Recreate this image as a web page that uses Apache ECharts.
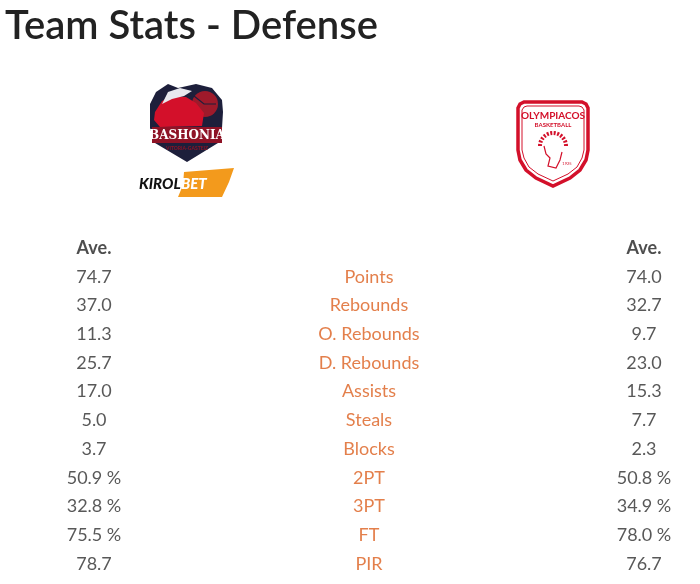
<!DOCTYPE html>
<html>
<head>
<meta charset="utf-8">
<script src="https://cdn.jsdelivr.net/npm/echarts@6/dist/echarts.min.js"></script>
<style>
  html, body { margin: 0; padding: 0; background: #fff; }
  #team_stats { width: 700px; height: 584px; }
</style>
</head>
<body>
<div id="team_stats"></div>
<script>
var columns = ['home', 'stat', 'away'];
var headerLabel = 'Ave.';
var stats = ['Points', 'Rebounds', 'O. Rebounds', 'D. Rebounds', 'Assists', 'Steals', 'Blocks', '2PT', '3PT', 'FT', 'PIR'];
var percentStats = ['2PT', '3PT', 'FT'];
var bashoniaAve = [74.7, 37.0, 11.3, 25.7, 17.0, 5.0, 3.7, 50.9, 32.8, 75.5, 78.7];
var olympiacosAve = [74.0, 32.7, 9.7, 23.0, 15.3, 7.7, 2.3, 50.8, 34.9, 78.0, 76.7];

var rows = [headerLabel].concat(stats);

function fmt(v, stat) {
    return v.toFixed(1) + (percentStats.indexOf(stat) >= 0 ? ' %' : '');
}

function teamData(col, values) {
    var data = [{
        value: [col, headerLabel, headerLabel],
        label: { fontWeight: 'bold', color: '#222' }
    }];
    stats.forEach(function (s, i) {
        data.push({ value: [col, s, fmt(values[i], s)] });
    });
    return data;
}

var statData = stats.map(function (s) { return { value: ['stat', s, s] }; });

var myChart = echarts.init(document.getElementById('team_stats'));

var labelBase = {
    show: true,
    position: 'inside',
    fontFamily: 'Lato',
    fontSize: 18,
    color: '#2e2e2e',
    formatter: function (p) { return p.value[2]; }
};

// logos, roughly drawn
var red = '#d3102a';
var navy = '#1d1f3b';
var logos = [
    // Bashonia crest
    { type: 'polygon', shape: { points: [[150, 104], [156, 92], [168, 84], [178, 88], [196, 84], [212, 88], [222, 100], [223, 112], [222, 128], [218, 143], [187, 162], [155, 143], [150, 128]] },
      style: { fill: navy } },
    { type: 'circle', shape: { cx: 205, cy: 104, r: 13 }, style: { fill: '#9e1a2b' } },
    { type: 'polyline', shape: { points: [[194, 96], [204, 104], [216, 104]] }, style: { stroke: navy, lineWidth: 1.2, fill: null } },
    { type: 'polygon', shape: { points: [[155, 112], [162, 101], [172, 96], [186, 97], [196, 103], [204, 113], [202, 126], [160, 127], [154, 120]] },
      style: { fill: red } },
    { type: 'polygon', shape: { points: [[162, 104], [168, 92], [180, 88], [192, 91], [184, 96], [172, 99]] },
      style: { fill: '#e8e8ee' } },
    { type: 'rect', shape: { x: 152, y: 127, width: 70, height: 16 }, style: { fill: '#8e1326' } },
    { type: 'text', style: { x: 187, y: 135.5, text: 'BASHONIA', fill: '#fff', font: 'bold 12px "DejaVu Serif"', align: 'center', verticalAlign: 'middle' } },
    { type: 'text', style: { x: 187, y: 148, text: 'VITORIA-GASTEIZ', fill: '#8e1326', font: 'bold 5px Lato', align: 'center', verticalAlign: 'middle' } },
    // Kirolbet
    { type: 'text', style: { x: 139, y: 184, text: 'KIROL', fill: '#111', font: 'italic 900 15px Lato', align: 'left', verticalAlign: 'middle' } },
    { type: 'polygon', shape: { points: [[184, 172], [234, 168], [229, 182], [222, 197], [178, 197], [183, 185]] },
      style: { fill: '#f39a1c' } },
    { type: 'text', style: { x: 181, y: 184, text: 'BET', fill: '#fff', font: 'italic 900 15px Lato', align: 'left', verticalAlign: 'middle' } },
    // Olympiacos shield
    { type: 'polygon', shape: { points: [[518, 108], [520, 104], [524, 102], [582, 102], [586, 104], [588, 108], [588, 150], [586, 160], [580, 170], [570, 178], [553, 186], [536, 178], [526, 170], [520, 160], [518, 150]] },
      style: { fill: '#fff', stroke: red, lineWidth: 3.5 } },
    { type: 'polygon', shape: { points: [[522, 110], [524, 107], [527, 106], [579, 106], [582, 107], [584, 110], [584, 150], [582, 158], [577, 167], [568, 174], [553, 181], [538, 174], [529, 167], [524, 158], [522, 150]] },
      style: { fill: 'none', stroke: red, lineWidth: 1 } },
    { type: 'text', style: { x: 553, y: 116, text: 'OLYMPIACOS', fill: red, font: 'bold 10px Lato', align: 'center', verticalAlign: 'middle' } },
    { type: 'text', style: { x: 553, y: 125, text: 'BASKETBALL', fill: red, font: 'bold 6px Lato', align: 'center', verticalAlign: 'middle' } },
    { type: 'arc', shape: { cx: 553, cy: 146, r: 13, startAngle: Math.PI, endAngle: 2 * Math.PI }, style: { stroke: red, lineWidth: 4, fill: null, lineDash: [2, 1.5] } },
    { type: 'polyline', shape: { points: [[544, 146], [546, 154], [550, 158], [548, 166], [556, 168], [560, 160], [562, 152]] }, style: { stroke: red, lineWidth: 1.2, fill: null } },
    { type: 'text', style: { x: 567, y: 164, text: '1925', fill: red, font: '4px Lato', align: 'center', verticalAlign: 'middle' } }
];

option = {
    animation: false,
    backgroundColor: '#fff',
    title: {
        text: 'Team Stats - Defense',
        left: 0,
        top: 1,
        textStyle: { fontFamily: 'Lato', fontSize: 40, fontWeight: 600, color: '#222' }
    },
    grid: { left: 94, right: 56, top: 248, bottom: 20 },
    xAxis: { type: 'category', data: columns, boundaryGap: false, show: false },
    yAxis: { type: 'category', data: rows, inverse: true, boundaryGap: false, show: false },
    graphic: logos,
    series: [
        {
            name: 'Bashonia',
            type: 'scatter',
            symbolSize: 1,
            itemStyle: { color: 'rgba(0,0,0,0)' },
            label: labelBase,
            data: teamData('home', bashoniaAve)
        },
        {
            name: 'Stat',
            type: 'scatter',
            symbolSize: 1,
            itemStyle: { color: 'rgba(0,0,0,0)' },
            label: Object.assign({}, labelBase, { color: '#dc5f1e' }),
            data: statData
        },
        {
            name: 'Olympiacos',
            type: 'scatter',
            symbolSize: 1,
            itemStyle: { color: 'rgba(0,0,0,0)' },
            label: labelBase,
            data: teamData('away', olympiacosAve)
        }
    ]
};

myChart.setOption(option);
</script>
</body>
</html>
